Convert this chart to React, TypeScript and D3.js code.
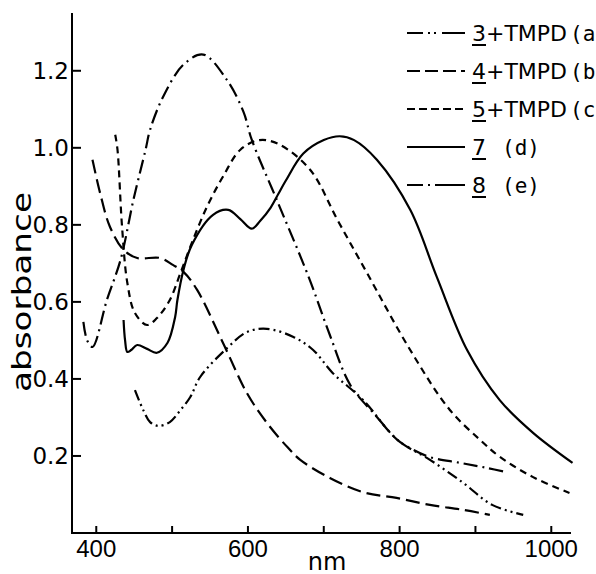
import React, { useEffect, useRef } from 'react';
import * as d3 from 'd3';

const size = { width: 596, height: 574 };

// spectra: [nm, absorbance]
const curveA: [number, number][] = [
  [451, 0.371], [462, 0.319], [471, 0.288], [482, 0.278], [497, 0.288], [511, 0.319],
  [524, 0.353], [537, 0.405], [573, 0.481], [599, 0.522], [625, 0.53], [660, 0.509],
  [686, 0.475], [712, 0.415], [752, 0.345], [797, 0.242], [840, 0.19], [884, 0.13],
  [922, 0.073], [963, 0.047],
];
const curveB: [number, number][] = [
  [395, 0.969], [405, 0.883], [418, 0.795], [436, 0.735], [454, 0.714], [484, 0.714],
  [501, 0.696], [515, 0.678], [533, 0.631], [567, 0.494], [599, 0.362], [625, 0.286],
  [652, 0.223], [669, 0.19], [708, 0.143], [752, 0.106], [796, 0.091], [840, 0.073],
  [884, 0.06], [919, 0.047],
];
const curveC: [number, number][] = [
  [425, 1.034], [428, 0.995], [434, 0.795], [441, 0.649], [451, 0.571], [467, 0.54],
  [480, 0.558], [497, 0.605], [511, 0.675], [526, 0.753], [546, 0.847], [567, 0.925],
  [590, 0.995], [615, 1.02], [640, 1.01], [682, 0.943], [718, 0.813], [757, 0.675],
  [814, 0.475], [866, 0.32], [906, 0.242], [932, 0.198], [976, 0.145], [1024, 0.104],
];
const curveD: [number, number][] = [
  [436, 0.553], [438, 0.5], [441, 0.47], [446, 0.475], [454, 0.488], [467, 0.478],
  [480, 0.468], [494, 0.494], [504, 0.561], [507, 0.605], [515, 0.683], [526, 0.748],
  [554, 0.826], [574, 0.839], [590, 0.815], [605, 0.79], [616, 0.81], [630, 0.845],
  [640, 0.88], [650, 0.915], [673, 0.985], [700, 1.02], [721, 1.03], [740, 1.02],
  [770, 0.969], [814, 0.839], [849, 0.665], [889, 0.475], [932, 0.345], [976, 0.26],
  [1028, 0.182],
];
const curveE: [number, number][] = [
  [383, 0.548], [388, 0.5], [395, 0.483], [414, 0.605], [432, 0.709], [449, 0.865],
  [465, 0.995], [471, 1.047], [488, 1.132], [515, 1.216], [541, 1.242], [572, 1.177],
  [594, 1.094], [605, 1.021], [638, 0.865], [680, 0.665], [708, 0.514], [735, 0.384],
  [768, 0.306], [797, 0.242], [818, 0.216], [840, 0.197], [880, 0.182], [915, 0.169],
  [941, 0.158],
];

const nmTicks = [400, 500, 600, 700, 800, 900, 1000];
const nmLabels = [400, 600, 800, 1000];
const absTicks = [0.2, 0.4, 0.6, 0.8, 1.0, 1.2];

const legendNumbers = ['3', '4', '5', '7', '8'];
const legendSuffix = ['+TMPD', '+TMPD', '+TMPD', '', ''];
const legendTags = ['(a)', '(b)', '(c)', '(d)', '(e)'];

const series = [curveA, curveB, curveC, curveD, curveE];
const dashes = ['11,4,2,4,2,4', '14,6', '7,5', null, '14,5,2,5'];
const legendDashes = ['16,5,2,4,2,6,25', '13,5', '8,4', null, '16,5,2,5,30'];

function App() {
  const ref = useRef<SVGSVGElement>(null);

  useEffect(() => {
    const svg = d3.select(ref.current);
    svg.selectAll('*').remove();

    const x = d3.scaleLinear().domain([368, 1026]).range([72, 571]);
    const y = d3.scaleLinear().domain([0, 1.35]).range([533, 13]);

    const font = "'DejaVu Sans', sans-serif";
    const liberation = "'Liberation Sans', Arial, sans-serif";

    // axes
    svg.append('line')
      .attr('x1', x(368)).attr('x2', x(1026))
      .attr('y1', y(0)).attr('y2', y(0))
      .attr('stroke', '#000').attr('stroke-width', 2);
    svg.append('line')
      .attr('x1', x(368)).attr('x2', x(368))
      .attr('y1', y(0) + 1).attr('y2', y(1.35))
      .attr('stroke', '#000').attr('stroke-width', 2);

    svg.selectAll('.xtick').data(nmTicks).enter().append('line')
      .attr('x1', d => x(d)).attr('x2', d => x(d))
      .attr('y1', y(0)).attr('y2', y(0) - 7)
      .attr('stroke', '#000').attr('stroke-width', 2);
    svg.selectAll('.xlab').data(nmLabels).enter().append('text')
      .attr('x', d => x(d)).attr('y', 557)
      .attr('text-anchor', 'middle')
      .style('font', '24px ' + liberation)
      .text(d => d);

    svg.selectAll('.ytick').data(absTicks).enter().append('line')
      .attr('x1', x(368)).attr('x2', x(368) + 9)
      .attr('y1', d => y(d)).attr('y2', d => y(d))
      .attr('stroke', '#000').attr('stroke-width', 2);
    svg.selectAll('.ylab').data(absTicks).enter().append('text')
      .attr('x', 69).attr('y', d => y(d) + 8)
      .attr('text-anchor', 'end')
      .style('font', '23px ' + font)
      .text(d => d3.format('.1f')(d));

    svg.append('text')
      .attr('x', 327).attr('y', 570)
      .attr('text-anchor', 'middle')
      .style('font', '24px ' + font)
      .text('nm');
    svg.append('text')
      .attr('transform', 'translate(31,292) rotate(-90)')
      .attr('text-anchor', 'middle')
      .attr('textLength', 200)
      .attr('lengthAdjust', 'spacingAndGlyphs')
      .style('font', '26px ' + font)
      .text('absorbance');

    // curves
    const line = d3.line<[number, number]>()
      .x(d => x(d[0]))
      .y(d => y(d[1]))
      .curve(d3.curveCatmullRom.alpha(0.5));

    series.forEach((s, i) => {
      svg.append('path')
        .attr('d', line(s))
        .attr('fill', 'none')
        .attr('stroke', '#000')
        .attr('stroke-width', 2.2)
        .attr('stroke-dasharray', dashes[i])
        .attr('stroke-linecap', 'butt');
    });

    // legend
    legendNumbers.forEach((num, i) => {
      const ly = 33 + i * 38;
      svg.append('line')
        .attr('x1', 407).attr('x2', 465)
        .attr('y1', ly).attr('y2', ly)
        .attr('stroke', '#000').attr('stroke-width', 2)
        .attr('stroke-dasharray', legendDashes[i]);
      svg.append('text')
        .attr('x', 472).attr('y', ly + 8)
        .style('font', '22px ' + font)
        .text(num + legendSuffix[i]);
      svg.append('line')
        .attr('x1', 472).attr('x2', 486)
        .attr('y1', ly + 12).attr('y2', ly + 12)
        .attr('stroke', '#000').attr('stroke-width', 2);
      svg.append('text')
        .attr('x', legendSuffix[i] ? 570 : 502).attr('y', ly + 8)
        .style('font', "21px 'DejaVu Sans Mono', monospace")
        .text(legendTags[i]);
    });
  }, []);

  return (
    <svg
      ref={ref}
      width={size.width}
      height={size.height}
      style={{ position: 'absolute', left: 0, top: 0, background: '#fff' }}
    />
  );
}

export default App;
